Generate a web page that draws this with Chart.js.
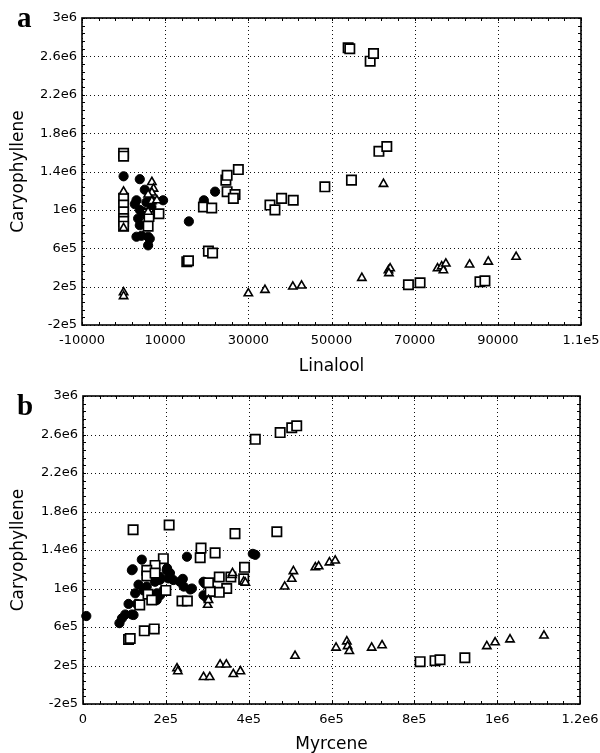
<!DOCTYPE html>
<html>
<head>
<meta charset="utf-8">
<script src="https://cdn.jsdelivr.net/npm/chart.js@4.4.0/dist/chart.umd.min.js"></script>
<style>
  html, body { margin: 0; padding: 0; background: #fff; overflow: hidden; }
  #wrap { position: relative; width: 600px; height: 753px; overflow: hidden; }
  .panel { position: absolute; left: 0; width: 600px; }
  #pa { top: 0; height: 377px; }
  #pb { top: 377px; height: 378px; }
  .tag { position: absolute; left: 17px; font: bold 29px "Liberation Serif", "DejaVu Serif", serif; line-height: 29px; color: #000; }
  #dbg { position: absolute; left: 300px; top: 60px; width: 280px; font: 10px monospace; white-space: pre-wrap; color: #c00; }
</style>
</head>
<body>
<div id="wrap">
  <div class="panel" id="pa"><canvas id="chartA"></canvas></div>
  <div class="panel" id="pb"><canvas id="chartB"></canvas></div>
  <div class="tag" style="top:3px">a</div>
  <div class="tag" style="top:391px">b</div>
  <div id="dbg"></div>
</div>
<script>
// only used if something goes wrong
const log = (m) => { document.getElementById("dbg").textContent += m + "\n"; };

// axis ticks
const yTickValues = [-2e5, 2e5, 6e5, 1e6, 1.4e6, 1.8e6, 2.2e6, 2.6e6, 3e6];
const yTickLabels = ["-2e5", "2e5", "6e5", "1e6", "1.4e6", "1.8e6", "2.2e6", "2.6e6", "3e6"];
const linaloolTickValues = [-10000, 10000, 30000, 50000, 70000, 90000, 110000];
const linaloolTickLabels = ["-10000", "10000", "30000", "50000", "70000", "90000", "1.1e5"];
const myrceneTickValues = [0, 2e5, 4e5, 6e5, 8e5, 1e6, 1.2e6];
const myrceneTickLabels = ["0", "2e5", "4e5", "6e5", "8e5", "1e6", "1.2e6"];

// panel a: linalool vs caryophyllene
const linaloolCircles = [
  [0, 1.35e6], [3900, 1.32e6], [0, 1.05e6], [0, 1.0e6], [0, 0.95e6], [3100, 1.10e6],
  [3900, 1.0e6], [2700, 1.06e6], [3500, 0.91e6], [3900, 0.84e6], [3100, 0.72e6],
  [4300, 0.73e6], [5900, 0.72e6], [6300, 0.70e6], [5900, 0.63e6], [6700, 1.10e6],
  [9500, 1.10e6], [5100, 1.21e6], [6700, 1.03e6], [5500, 1.08e6], [4700, 0.98e6],
  [15700, 0.88e6], [19300, 1.10e6], [22000, 1.19e6]
];
const linaloolSquares = [
  [0, 1.59e6], [0, 1.56e6], [0, 1.12e6], [0, 1.05e6], [0, 0.98e6], [0, 0.91e6],
  [0, 0.88e6], [0, 0.83e6], [5900, 0.96e6], [8500, 0.96e6], [5900, 0.83e6], [6100, 0.93e6],
  [15200, 0.46e6], [15600, 0.47e6], [19200, 1.03e6], [21200, 1.02e6], [20400, 0.57e6],
  [21400, 0.55e6], [24600, 1.31e6], [24900, 1.36e6], [27600, 1.42e6], [24900, 1.19e6],
  [26800, 1.16e6], [26400, 1.12e6], [35200, 1.05e6], [36400, 1.0e6], [38000, 1.12e6],
  [40800, 1.10e6], [48400, 1.24e6], [54800, 1.31e6], [54000, 2.69e6], [54400, 2.68e6],
  [59300, 2.55e6], [60100, 2.63e6], [61400, 1.61e6], [63300, 1.66e6], [68500, 0.22e6],
  [71300, 0.24e6], [85700, 0.25e6], [86900, 0.26e6]
];
const linaloolTriangles = [
  [0, 1.19e6], [0, 0.81e6], [0, 0.14e6], [0, 0.10e6], [6800, 1.29e6], [7200, 1.22e6],
  [6800, 1.18e6], [5900, 1.16e6], [6800, 1.09e6], [8000, 1.10e6], [5900, 0.98e6],
  [30000, 0.13e6], [34000, 0.165e6], [40700, 0.20e6], [42800, 0.21e6], [57300, 0.29e6],
  [62500, 1.27e6], [63700, 0.37e6], [64100, 0.39e6], [63800, 0.34e6], [75500, 0.39e6],
  [76500, 0.41e6], [76900, 0.37e6], [77500, 0.44e6], [83200, 0.43e6], [87700, 0.46e6],
  [94400, 0.51e6]
];

// panel b: myrcene vs caryophyllene
const myrceneCircles = [
  [8000, 0.714e6], [88000, 0.64e6], [94000, 0.69e6], [102000, 0.73e6], [118000, 0.73e6],
  [122000, 0.725e6], [110000, 0.84e6], [130000, 0.84e6], [126000, 0.95e6], [134000, 1.04e6],
  [118000, 1.19e6], [120000, 1.2e6], [142000, 1.30e6], [146000, 0.98e6], [154000, 1.02e6],
  [166000, 0.915e6], [178000, 0.88e6], [178000, 0.95e6], [174000, 1.07e6], [186000, 1.12e6],
  [186000, 1.09e6], [186000, 0.93e6], [194000, 0.98e6], [202000, 1.19e6], [203000, 1.21e6],
  [210000, 1.16e6], [206000, 1.105e6], [218000, 1.088e6], [234000, 1.07e6], [241000, 1.10e6],
  [243000, 1.02e6], [251000, 1.33e6], [259000, 0.99e6], [263000, 1.0e6], [291000, 1.07e6],
  [295000, 1.05e6], [291000, 0.93e6], [299000, 0.90e6], [410000, 1.36e6], [416000, 1.35e6]
];
const myrceneSquares = [
  [110000, 0.47e6], [114000, 0.48e6], [148000, 0.56e6], [172000, 0.58e6], [121000, 1.61e6],
  [208000, 1.66e6], [367000, 1.57e6], [468000, 1.59e6], [285000, 1.42e6], [283000, 1.32e6],
  [319000, 1.37e6], [194000, 1.31e6], [174000, 1.24e6], [154000, 1.19e6], [154000, 1.13e6],
  [174000, 1.16e6], [200000, 0.98e6], [157000, 0.94e6], [166000, 0.88e6], [137000, 0.83e6],
  [239000, 0.87e6], [252000, 0.87e6], [329000, 1.12e6], [357000, 1.12e6], [390000, 1.22e6],
  [388000, 1.10e6], [347000, 1.0e6], [329000, 0.96e6], [307000, 0.97e6], [303000, 1.06e6],
  [416000, 2.55e6], [476000, 2.62e6], [504000, 2.67e6], [516000, 2.69e6], [814000, 0.24e6],
  [850000, 0.25e6], [862000, 0.26e6], [922000, 0.28e6]
];
const myrceneTriangles = [
  [227000, 0.17e6], [229000, 0.14e6], [291000, 0.08e6], [306000, 0.08e6], [331000, 0.21e6],
  [346000, 0.21e6], [363000, 0.11e6], [380000, 0.14e6], [512000, 0.30e6], [611000, 0.385e6],
  [637000, 0.45e6], [639000, 0.40e6], [643000, 0.35e6], [697000, 0.385e6], [722000, 0.41e6],
  [975000, 0.40e6], [995000, 0.44e6], [1031000, 0.47e6], [1113000, 0.51e6], [301000, 0.83e6],
  [303000, 0.88e6], [360000, 1.14e6], [361000, 1.16e6], [388000, 1.07e6], [392000, 1.06e6],
  [487000, 1.02e6], [504000, 1.10e6], [508000, 1.18e6], [561000, 1.22e6], [569000, 1.23e6],
  [595000, 1.27e6], [609000, 1.29e6]
];

const tickFont = { family: "DejaVu Sans", size: 13 };
const titleFont = { family: "DejaVu Sans", size: 17 };

const toPoints = (arr) => arr.map(([x, y]) => ({ x, y }));

// triangles first so they end up on top, circles at the bottom
function makeDatasets(circles, squares, triangles) {
  return [
    { label: "triangles", data: toPoints(triangles), pointStyle: "triangle", pointRadius: 4.8,
      backgroundColor: "#fff", borderColor: "#000", borderWidth: 1.6 },
    { label: "squares", data: toPoints(squares), pointStyle: "rect", pointRadius: 6.6,
      backgroundColor: "#fff", borderColor: "#000", borderWidth: 1.7 },
    { label: "circles", data: toPoints(circles), pointStyle: "circle", pointRadius: 4.6,
      backgroundColor: "#000", borderColor: "#000", borderWidth: 1 },
  ];
}

// dotted grid at the tick values, solid frame, small inward minor ticks
const framePlugin = {
  id: "frame",
  beforeDatasetsDraw(chart) {
    try {
      const { ctx, chartArea: a, scales } = chart;
      const xs = scales.x, ys = scales.y;
      ctx.save();
      ctx.strokeStyle = "#111";
      ctx.lineWidth = 1;
      ctx.setLineDash([1, 3]);
      ctx.beginPath();
      xs.ticks.forEach((t) => {
        const px = Math.round(xs.getPixelForValue(t.value)) + 0.5;
        ctx.moveTo(px, a.top); ctx.lineTo(px, a.bottom);
      });
      ys.ticks.forEach((t) => {
        const py = Math.round(ys.getPixelForValue(t.value)) + 0.5;
        ctx.moveTo(a.left, py); ctx.lineTo(a.right, py);
      });
      ctx.stroke();
      ctx.setLineDash([]);
      ctx.strokeStyle = "#000";
      const xStep = (xs.ticks[1].value - xs.ticks[0].value) / 5;
      const yStep = (ys.ticks[1].value - ys.ticks[0].value) / 5;
      ctx.beginPath();
      for (let v = xs.min; v <= xs.max + 1e-6; v += xStep) {
        const px = Math.round(xs.getPixelForValue(v)) + 0.5;
        ctx.moveTo(px, a.bottom); ctx.lineTo(px, a.bottom - 3);
        ctx.moveTo(px, a.top); ctx.lineTo(px, a.top + 3);
      }
      for (let v = ys.min; v <= ys.max + 1e-6; v += yStep) {
        const py = Math.round(ys.getPixelForValue(v)) + 0.5;
        ctx.moveTo(a.left, py); ctx.lineTo(a.left + 3, py);
        ctx.moveTo(a.right, py); ctx.lineTo(a.right - 3, py);
      }
      ctx.stroke();
      ctx.lineWidth = 1.6;
      ctx.strokeRect(a.left, a.top, a.right - a.left, a.bottom - a.top);
      ctx.restore();
    } catch (e) { log("plugin err " + e); }
  },
};

function makeChart(id, datasets, xVals, xLabels, xTitle, opts) {
  return new Chart(document.getElementById(id), {
    type: "scatter",
    data: { datasets },
    plugins: [framePlugin],
    options: {
      responsive: true,
      maintainAspectRatio: false,
      animation: false,
      events: [],
      clip: false,
      layout: { padding: { left: 0, top: opts.top, right: opts.right, bottom: 0 } },
      plugins: { legend: { display: false }, tooltip: { enabled: false } },
      scales: {
        x: {
          type: "linear",
          min: xVals[0],
          max: xVals[xVals.length - 1],
          afterBuildTicks: (s) => { s.ticks = xVals.map((v) => ({ value: v })); },
          afterFit: (s) => { s.height = opts.xHeight; s.paddingLeft = 0; s.paddingRight = 0; },
          ticks: { callback: (v, i) => xLabels[i], font: tickFont, color: "#000", padding: 8, maxRotation: 0, autoSkip: false },
          grid: { display: false, drawTicks: false },
          border: { display: false },
          title: { display: true, text: xTitle, font: titleFont, color: "#000", padding: { top: 0, bottom: 0 } },
        },
        y: {
          type: "linear",
          min: yTickValues[0],
          max: yTickValues[yTickValues.length - 1],
          afterBuildTicks: (s) => { s.ticks = yTickValues.map((v) => ({ value: v })); },
          afterFit: (s) => { s.width = opts.yWidth; },
          ticks: { callback: (v, i) => yTickLabels[i], font: tickFont, color: "#000", padding: 5, autoSkip: false },
          grid: { display: false, drawTicks: false },
          border: { display: false },
          title: { display: true, text: "Caryophyllene", font: titleFont, color: "#000", padding: { top: 8, bottom: 0 } },
        },
      },
    },
  });
}

try {
  makeChart("chartA", makeDatasets(linaloolCircles, linaloolSquares, linaloolTriangles),
    linaloolTickValues, linaloolTickLabels, "Linalool",
    { top: 18, right: 19, xHeight: 52, yWidth: 82 });
  makeChart("chartB", makeDatasets(myrceneCircles, myrceneSquares, myrceneTriangles),
    myrceneTickValues, myrceneTickLabels, "Myrcene",
    { top: 19, right: 20, xHeight: 51, yWidth: 83 });
} catch (e) { log("make err " + e); }
</script>
</body>
</html>
